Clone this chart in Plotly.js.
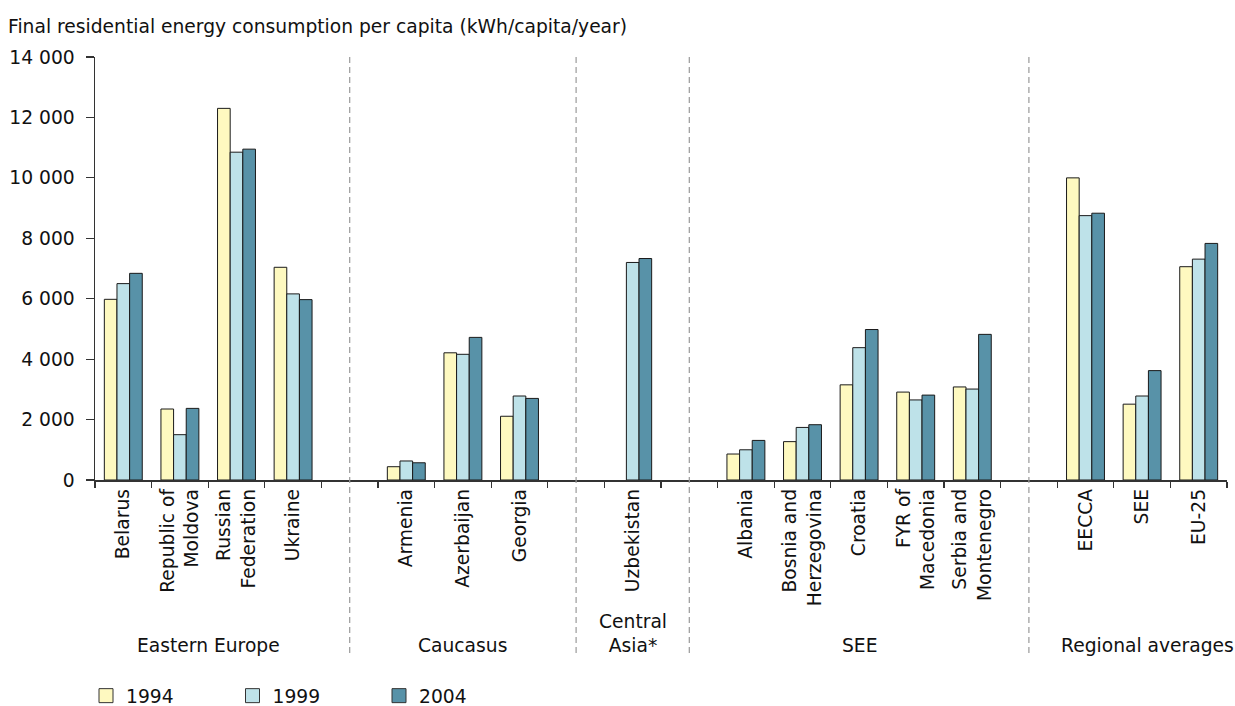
<!DOCTYPE html>
<html>
<head>
<meta charset="utf-8">
<script src="https://cdn.plot.ly/plotly-3.0.1.min.js"></script>
<style>
  html, body { margin: 0; padding: 0; background: #ffffff; }
  #chart { width: 1235px; height: 706px; }
</style>
</head>
<body>
<div id="chart"></div>
<script>
// ---- Data ----
const groupNames = ['Eastern Europe', 'Caucasus', 'Central<br>Asia*', 'SEE', 'Regional averages'];
const groupSizes = [4, 3, 1, 5, 3];
const countries = [
  'Belarus', 'Republic of<br>Moldova', 'Russian<br>Federation', 'Ukraine',
  'Armenia', 'Azerbaijan', 'Georgia',
  'Uzbekistan',
  'Albania', 'Bosnia and<br>Herzegovina', 'Croatia', 'FYR of<br>Macedonia', 'Serbia and<br>Montenegro',
  'EECCA', 'SEE', 'EU-25'
];
const years = ['1994', '1999', '2004'];
const v1994 = [5980, 2350, 12300, 7040, 440, 4210, 2110, null, 860, 1270, 3150, 2910, 3080, 10000, 2510, 7060];
const v1999 = [6500, 1500, 10850, 6160, 630, 4160, 2780, 7200, 1000, 1740, 4380, 2650, 3010, 8750, 2780, 7310];
const v2004 = [6840, 2370, 10950, 5970, 570, 4720, 2700, 7330, 1310, 1830, 4980, 2810, 4820, 8830, 3620, 7830];
const yTicks = [0, 2000, 4000, 6000, 8000, 10000, 12000, 14000];
const colors = ['#FEF9C0', '#BEE2E9', '#5892A8'];

// ---- Build category slots with an empty separator slot between groups ----
const slots = [];          // category names on the axis
const slotIndex = [];      // index into countries (or -1 for separators)
const separatorSlots = []; // slot numbers of separators
const groupCenters = [];   // slot centre for each group label
let k = 0;
groupSizes.forEach((n, g) => {
  if (g > 0) {
    separatorSlots.push(slots.length);
    slots.push('\u200b'.repeat(g)); // invisible unique category
    slotIndex.push(-1);
  }
  const start = slots.length;
  for (let i = 0; i < n; i++) {
    slots.push(countries[k]);
    slotIndex.push(k);
    k++;
  }
  groupCenters.push((start + slots.length - 1) / 2);
});
const series = [v1994, v1999, v2004];
const OUTLINE = '#1a1a1a';
const traces = series.map((vals, s) => ({
  type: 'bar',
  name: years[s],
  x: slots,
  y: slotIndex.map(i => (i < 0 ? null : vals[i])),
  marker: { color: colors[s], line: { color: OUTLINE, width: 1 } },
  showlegend: false,
  legendgroup: years[s],
  hoverinfo: 'skip'
}));
// legend entries (square swatches like the reference)
years.forEach((yr, s) => {
  traces.push({
    type: 'scatter', mode: 'markers', name: yr, legendgroup: yr,
    x: [null], y: [null],
    marker: { symbol: 'square', size: 14, color: colors[s], line: { color: '#333', width: 1 } },
    hoverinfo: 'skip'
  });
});

const FONT = 'DejaVu Sans, Verdana, sans-serif';
const FS = 18.7;
const plotH = 423;
const lineBottom = -(655 - 480) / plotH;
const labelBottom = -(658 - 480) / plotH;

const shapes = separatorSlots.map(sx => ({
  type: 'line', xref: 'x', yref: 'paper',
  x0: sx, x1: sx, y0: 1, y1: lineBottom,
  line: { color: '#9a9a9a', width: 1.2, dash: '6px,4px' }
}));

const annotations = groupNames.map((name, g) => ({
  xref: 'x', yref: 'paper',
  x: g === groupNames.length - 1 ? groupCenters[g] + 0.1 : groupCenters[g],
  y: labelBottom, yanchor: 'bottom', xanchor: 'center',
  text: name, showarrow: false,
  font: { family: FONT, size: FS, color: '#111' }
}));

const layout = {
  width: 1235, height: 706,
  margin: { l: 95, r: 8, t: 57, b: 226, autoexpand: false },
  paper_bgcolor: '#ffffff', plot_bgcolor: '#ffffff',
  font: { family: FONT, size: FS, color: '#111' },
  separators: ', ',
  title: {
    text: 'Final residential energy consumption per capita (kWh/capita/year)',
    xref: 'container', yref: 'container',
    x: 8 / 1235, xanchor: 'left',
    y: 1 - 26 / 706, yanchor: 'middle',
    font: { family: FONT, size: FS, color: '#111' }
  },
  barmode: 'group', bargap: 0.33, bargroupgap: 0,
  showlegend: true,
  legend: {
    orientation: 'h', xref: 'container', yref: 'paper',
    x: 86 / 1235, xanchor: 'left', y: (480 - 696) / plotH, yanchor: 'middle',
    entrywidth: 101.5, entrywidthmode: 'pixels',
    font: { family: FONT, size: FS, color: '#111' },
    traceorder: 'normal', bgcolor: 'rgba(0,0,0,0)'
  },
  xaxis: {
    type: 'category', categoryorder: 'array', categoryarray: slots,
    range: [-0.5, slots.length - 0.5],
    tickson: 'boundaries', ticks: 'outside', ticklen: 6, tickwidth: 1.2, tickcolor: '#333',
    tickangle: -90,
    showline: true, linecolor: '#333', linewidth: 1.5,
    showgrid: false, zeroline: false, fixedrange: true,
    tickfont: { family: FONT, size: FS, color: '#111' }
  },
  yaxis: {
    range: [0, 14000], tickvals: yTicks, separatethousands: true, tickformat: ',d',
    ticks: 'outside', ticklen: 8, tickwidth: 1.2, tickcolor: '#333',
    ticklabelstandoff: 7,
    showline: true, linecolor: '#333', linewidth: 1.5,
    showgrid: false, zeroline: false, fixedrange: true,
    tickfont: { family: FONT, size: FS, color: '#111' }
  },
  shapes: shapes,
  annotations: annotations
};

Plotly.newPlot('chart', traces, layout, { displayModeBar: false, staticPlot: true });
</script>
</body>
</html>
